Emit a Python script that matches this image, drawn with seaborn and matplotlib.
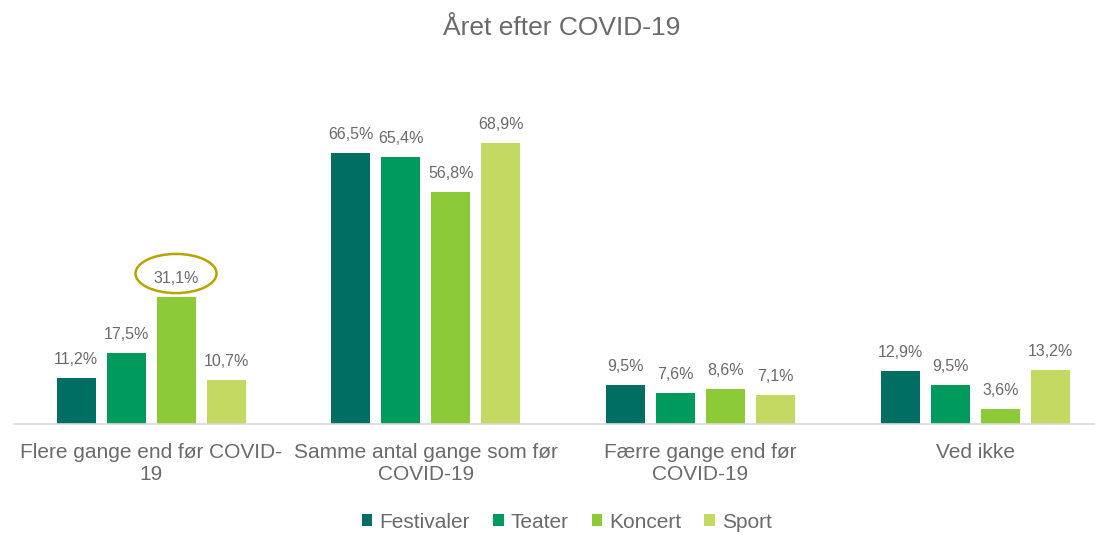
import matplotlib
matplotlib.use("Agg")
import matplotlib.pyplot as plt
import seaborn as sns
import pandas as pd
from matplotlib.patches import Patch, Ellipse
from matplotlib import patheffects as pe

title = "Året efter COVID-19"
categories = ["Flere gange end før COVID-\n19", "Samme antal gange som før\nCOVID-19",
              "Færre gange end før\nCOVID-19", "Ved ikke"]
series_names = ["Festivaler", "Teater", "Koncert", "Sport"]
festivaler = [11.2, 66.5, 9.5, 12.9]
teater = [17.5, 65.4, 7.6, 9.5]
koncert = [31.1, 56.8, 8.6, 3.6]
sport = [10.7, 68.9, 7.1, 13.2]
colors = ["#006E62", "#009A5E", "#8CCB37", "#C4D961"]
highlight = ("Koncert", 0)  # series, category index with circled label

values = {"Festivaler": festivaler, "Teater": teater, "Koncert": koncert, "Sport": sport}
rows = []
for s in series_names:
    for c, v in zip(categories, values[s]):
        rows.append({"cat": c, "serie": s, "val": v})
df = pd.DataFrame(rows)

sns.set_style("white")
plt.rcParams["font.family"] = ["Liberation Sans", "DejaVu Sans"]
txt = "#6A6A6A"

fig = plt.figure(figsize=(10.95, 5.35), dpi=100)
ax = fig.add_axes([14 / 1095, (535 - 424) / 535, 1 - 14 / 1095, (424 - 70) / 535])

sns.barplot(data=df, x="cat", y="val", hue="serie", order=categories, hue_order=series_names,
            palette=colors, width=0.728, gap=0.22, ax=ax, legend=False, errorbar=None,
            saturation=1, edgecolor="none")

for p in ax.patches:
    p.set_path_effects([pe.SimplePatchShadow(offset=(0, -2), shadow_rgbFace="#999999", alpha=0.35),
                        pe.Normal()])

for cont, s in zip(ax.containers, series_names):
    labels = [f"{v:.1f}%".replace(".", ",") for v in cont.datavalues]
    ax.bar_label(cont, labels=labels, padding=8, fontsize=11.5, color=txt)

# highlight ellipse
cont = ax.containers[series_names.index(highlight[0])]
bar = cont.patches[highlight[1]]
cx = bar.get_x() + bar.get_width() / 2
cy = bar.get_height() + 5.8
ax.add_patch(Ellipse((cx, cy), width=0.295, height=9.6, fill=False,
                     edgecolor="#B8A300", linewidth=1.8, clip_on=False, zorder=5))

ax.set_xlim(-0.4987, 3.436)
ax.set_ylim(0, 86.8)
ax.set_xlabel("")
ax.set_ylabel("")
ax.set_yticks([])
for side in ["top", "left", "right"]:
    ax.spines[side].set_visible(False)
ax.spines["bottom"].set_color("#D9D9D9")
ax.spines["bottom"].set_linewidth(1.2)
ax.tick_params(axis="x", length=0, pad=14, labelsize=15, labelcolor=txt)
for t in ax.get_xticklabels():
    t.set_linespacing(1.15)
    t.set_ha("center")

fig.text(562 / 1095, 1 - 28 / 535, title, ha="center", va="center", fontsize=19, color=txt)

handles = [Patch(facecolor=c, edgecolor="none", label=s) for c, s in zip(colors, series_names)]
fig.legend(handles=handles, loc="center", bbox_to_anchor=(567 / 1095, 1 - 522 / 535), ncol=4,
           frameon=False, fontsize=15, labelcolor=txt, handlelength=0.5, handleheight=0.5,
           handletextpad=0.35, columnspacing=1.1, borderaxespad=0)

fig.savefig("out.png", dpi=100)
